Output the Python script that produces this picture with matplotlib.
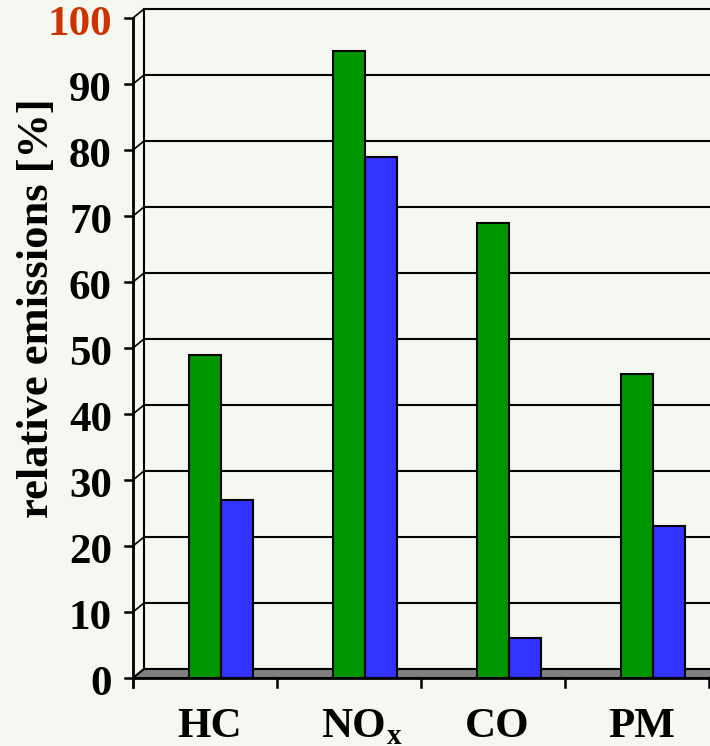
import matplotlib
matplotlib.use("Agg")
import matplotlib.pyplot as plt
from matplotlib.patches import Polygon

#--- data
categories = ['HC', 'NO', 'CO', 'PM']
subscripts = ['', 'x', '', '']
green_vals = [49, 95, 69, 46]
blue_vals = [27, 79, 6, 23]
yticks = [0, 10, 20, 30, 40, 50, 60, 70, 80, 90, 100]

bg = '#F5F8F0'
green = '#009600'
blue = '#3333FF'
font = dict(family='Liberation Serif', fontweight='bold', fontsize=31)

fig = plt.figure(figsize=(7.1, 7.46), dpi=100, facecolor=bg)
W, H = 710, 746
ax = fig.add_axes([133 / W, 68 / H, 576 / W, 660 / H])
ax.set_facecolor('none')
ax.set_xlim(0, 4)
ax.set_ylim(0, 100)
ax.axis('off')

#--- pixel -> data conversions for the fake 3D depth
px_x = 576 / 4
px_y = 660 / 100
dx = 11 / px_x
dy = 9 / px_y

#--- back wall gridlines and side diagonals
for v in yticks:
    ax.plot([dx, 4.2], [v + dy, v + dy], color='black', lw=1.5, clip_on=False, zorder=1)
    ax.plot([0, dx], [v, v + dy], color='black', lw=1.2, clip_on=False, zorder=1)
ax.plot([dx, dx], [dy, 100 + dy], color='black', lw=1.5, clip_on=False, zorder=1)

#--- floor
floor = Polygon([(0, 0), (4.2, 0), (4.2 + dx, dy), (dx, dy)], closed=True,
                facecolor='#808080', edgecolor='black', lw=1.5, clip_on=False, zorder=2)
ax.add_patch(floor)
ax.plot([4, 4 + dx], [0, dy], color='black', lw=1.2, clip_on=False, zorder=2)

#--- bars
bw = 0.222
for i in range(len(categories)):
    ax.bar(i + 0.5, green_vals[i], width=bw, color=green, edgecolor='black',
           lw=1.5, zorder=3, clip_on=False)
    ax.bar(i + 0.5 + bw, blue_vals[i], width=bw, color=blue, edgecolor='black',
           lw=1.5, zorder=3, clip_on=False)

#--- front axes lines and ticks
ax.plot([0, 0], [-9 / px_y, 100], color='black', lw=2, clip_on=False, zorder=4)
ax.plot([0, 4], [0, 0], color='black', lw=2, clip_on=False, zorder=4)
for v in yticks:
    ax.plot([-8 / px_x, 0], [v, v], color='black', lw=1.8, clip_on=False, zorder=4)
    ax.text(-21 / px_x, v - 7 / px_y, str(v), ha='right', va='center',
            color='#CC3300' if v == 100 else 'black', **font)
for i in range(1, 5):
    ax.plot([i, i], [0, -9 / px_y], color='black', lw=1.8, clip_on=False, zorder=4)

for i, lab in enumerate(categories):
    t = ax.text(i + 0.53, -59 / px_y, lab, ha='center', va='baseline', **font)
    if subscripts[i]:
        ax.annotate(subscripts[i], xy=(1, -66 / px_y), xycoords=(t, 'data'),
                    xytext=(1, 0), textcoords='offset pixels', ha='left',
                    va='baseline', annotation_clip=False,
                    **dict(font, fontsize=21))

ax.text(-96 / px_x, 56, 'relative emissions [%]', rotation=90, ha='center',
        va='center', **dict(font, fontsize=32))

fig.savefig('out.png', dpi=100, facecolor=bg)
